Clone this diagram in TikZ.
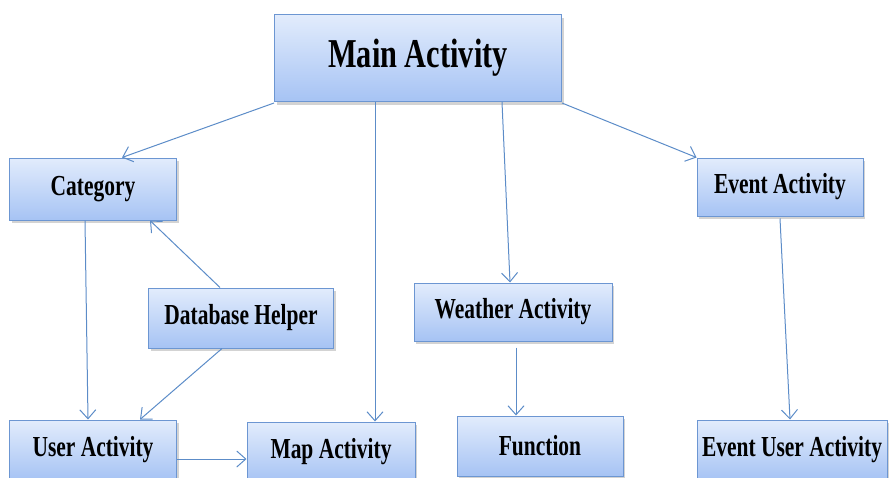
\documentclass[tikz,border=0pt]{standalone}
\usepackage{fontspec}
\newfontfamily\boxfont{Liberation Serif}[FakeStretch=0.74]
\usetikzlibrary{arrows.meta, shadows, shadings}

\definecolor{boxline}{RGB}{108,150,210}
\definecolor{boxtop}{RGB}{226,236,252}
\definecolor{boxbottom}{RGB}{166,195,244}
\definecolor{linkline}{RGB}{92,140,200}

\tikzset{
    activity/.style = {rectangle, draw=boxline, line width=1pt,
        top color=boxtop, bottom color=boxbottom,
        drop shadow={shadow xshift=2pt, shadow yshift=-3pt, opacity=0.35},
        font=\boxfont\bfseries\fontsize{29}{32}\selectfont,
        inner sep=0pt},
    link/.style = {color=linkline, line width=1pt,
        -{Straight Barb[length=9pt, width=16pt]}}
}

\begin{document}
\begin{tikzpicture} [x=1pt, y=-1pt]
    \useasboundingbox (0,0) rectangle (889,477);

    % Main Activity
    \node (main) [activity, minimum width=287pt, minimum height=87pt,
        font=\boxfont\bfseries\fontsize{41}{44}\selectfont]
        at (418,58) {Main Activity};

    % Category
    \node (cat) [activity, minimum width=167pt, minimum height=62pt]
        at (93,189) {Category};

    % Database Helper
    \node (db) [activity, minimum width=185pt, minimum height=60pt]
        at (241,318) {Database Helper};

    % User Activity
    \node (user) [activity, minimum width=167pt, minimum height=60pt]
        at (93,450) {User Activity};

    % Map Activity
    \node (map) [activity, minimum width=168pt, minimum height=60pt]
        at (331,452) {Map Activity};

    % Weather Activity
    \node (weather) [activity, minimum width=198pt, minimum height=58pt]
        at (513,312) {Weather Activity};

    % Function
    \node (fun) [activity, minimum width=166pt, minimum height=60pt]
        at (540,446) {Function};

    % Event Activity
    \node (event) [activity, minimum width=166pt, minimum height=58pt]
        at (780,187) {Event Activity};

    % Event User Activity
    \node (evuser) [activity, minimum width=190pt, minimum height=60pt]
        at (792,450) {Event User Activity};

    % Arrows
    \path [link]
        ([yshift=-1pt]main.south west) edge ([xshift=29pt]cat.north)
        ([xshift=-43pt]main.south) edge ([xshift=44pt]map.north)
        ([xshift=84pt]main.south) edge ([xshift=-3pt]weather.north)
        ([yshift=-1pt]main.south east) edge (event.north west)

        ([xshift=-8pt]cat.south) edge ([xshift=-5pt]user.north)
        ([xshift=-21pt]db.north) edge ([xshift=57pt]cat.south)
        ([xshift=-19pt]db.south) edge ([xshift=47pt]user.north)
        ([yshift=-9pt]user.east) edge ([yshift=-9pt]user.east -| map.west)

        ([xshift=3pt, yshift=-6pt]weather.south) edge ([xshift=3pt]weather.south |- fun.north)
        ([yshift=-2pt]event.south) edge ([xshift=-2pt]evuser.north);
\end{tikzpicture}
\end{document}
